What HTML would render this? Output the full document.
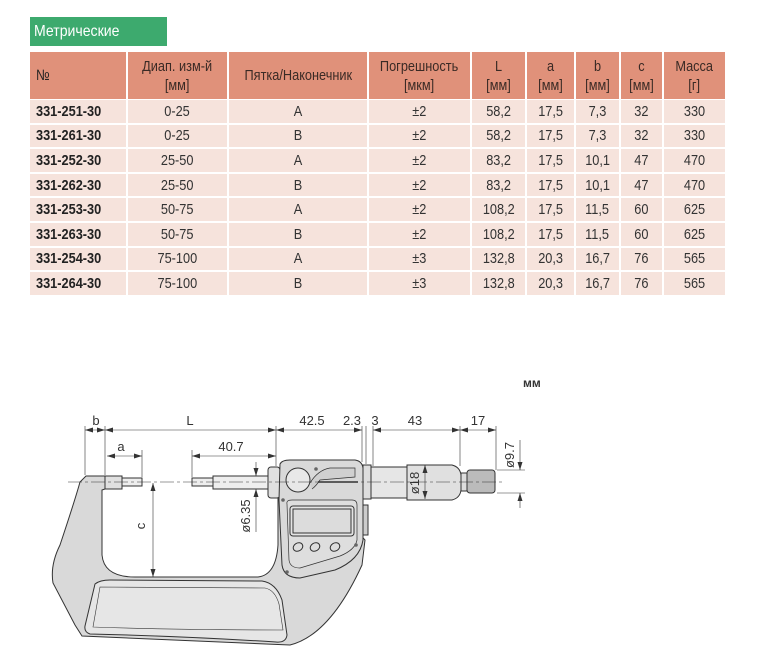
<!DOCTYPE html>
<html><head><meta charset="utf-8"><style>
body{margin:0;width:761px;height:669px;background:#fff;position:relative;overflow:hidden;font-family:"Liberation Sans",sans-serif;}
.c{position:absolute;display:flex;align-items:center;justify-content:center;text-align:center;font-size:15px;color:#333;line-height:19px;box-sizing:border-box;}
.c span{display:inline-block;transform:scaleX(0.85);white-space:nowrap;}
.h{background:#e0917a;color:#3a2a25;}
.r{background:#f6e3dc;}
.n{justify-content:flex-start;padding-left:6px;font-weight:bold;color:#222;}
.n span{transform-origin:left center;}
</style></head><body>
<div style="position:absolute;left:30px;top:17px;width:137px;height:29px;background:#3daa6e;color:#fff;font-size:16px;line-height:29px;padding-left:4px;box-sizing:border-box;"><span style="display:inline-block;transform:scaleX(0.88);transform-origin:left center">Метрические</span></div>
<div id="t"></div>
<script>
var cols=[[30,126],[128,227],[229,367],[369,470],[472,525],[527,574],[576,619],[621,662],[664,725]];
var hd=["№","Диап. изм-й<br>[мм]","Пятка/Наконечник","Погрешность<br>[мкм]","L<br>[мм]","a<br>[мм]","b<br>[мм]","c<br>[мм]","Масса<br>[г]"];
var rows=[["331-251-30","0-25","A","±2","58,2","17,5","7,3","32","330"],
["331-261-30","0-25","B","±2","58,2","17,5","7,3","32","330"],
["331-252-30","25-50","A","±2","83,2","17,5","10,1","47","470"],
["331-262-30","25-50","B","±2","83,2","17,5","10,1","47","470"],
["331-253-30","50-75","A","±2","108,2","17,5","11,5","60","625"],
["331-263-30","50-75","B","±2","108,2","17,5","11,5","60","625"],
["331-254-30","75-100","A","±3","132,8","20,3","16,7","76","565"],
["331-264-30","75-100","B","±3","132,8","20,3","16,7","76","565"]];
var h="";
cols.forEach(function(c,i){h+='<div class="c h'+(i==0?' n':'')+'" style="left:'+c[0]+'px;top:52px;width:'+(c[1]-c[0])+'px;height:47px;font-weight:normal"><span>'+hd[i]+'</span></div>';});
rows.forEach(function(r,j){var y=100+j*24.6;cols.forEach(function(c,i){h+='<div class="c r'+(i==0?' n':'')+'" style="left:'+c[0]+'px;top:'+y+'px;width:'+(c[1]-c[0])+'px;height:22.6px"><span>'+r[i]+'</span></div>';});});
document.getElementById("t").innerHTML=h;
</script>
<div style="position:absolute;left:523px;top:376px;font-size:12px;font-weight:bold;color:#333;">мм</div>
<svg width="761" height="669" style="position:absolute;left:0;top:0" font-family="Liberation Sans,sans-serif" font-size="12" fill="#333">
<defs><marker id="a" markerWidth="8" markerHeight="6" refX="8" refY="3" orient="auto-start-reverse" markerUnits="userSpaceOnUse"><path d="M0,0.5L8,3L0,5.5z" fill="#333"/></marker></defs>
<g stroke="#333" stroke-width="1" fill="#d9d9d9">
<path d="M86,476 L105,476 L105,489 L102,490 L102,555 Q104,577 135,577 L258,577 Q276,575 278,545 L278,495 L330,500 L365,540 L362,565 Q330,635 290,645 Q180,640 82,636 L75,625 L53,583 Q50,565 60,545 Q75,500 80,482 Z"/>
<path d="M95,584 Q100,580 110,580 L262,581 Q276,583 282,600 L287,635 Q286,643 276,642 Q180,636 90,634 Q84,632 85,626 Z" fill="#e6e6e6"/>
<path d="M100,587 L265,588 Q275,590 279,604 L283,630 Q180,630 93,627 Z" fill="none" stroke-width="0.6"/>
<rect x="105" y="476" width="17" height="13" fill="#e0e0e0"/>
<rect x="122" y="478" width="20" height="8" fill="#eee"/>
<rect x="192" y="478" width="21" height="8" fill="#eee"/>
<rect x="213" y="476" width="57" height="13" fill="#eee"/>
<rect x="268" y="467" width="12" height="31" rx="3" fill="#e0e0e0"/>
<path d="M280,464 Q282,460 290,460 L355,460 Q362,461 363,468 L363,540 Q360,560 335,570 L300,578 Q284,578 282,565 L279,500 Z"/>
<path d="M287,504 Q286,500 292,500 L352,500 Q357,500 357,505 L357,540 Q355,550 340,556 L300,568 Q290,568 289,560 Z" fill="#dedede" stroke-width="0.7"/>
<rect x="290" y="506" width="64" height="30" rx="3" fill="#e4e4e4"/>
<rect x="293" y="509" width="58" height="24" fill="#dcdcdc"/>
<circle cx="298" cy="480" r="12" fill="#e8e8e8"/>
<path d="M310,483 Q318,470 330,468 L355,468 L355,477 L320,480 Q316,486 312,489" fill="#d0d0d0" stroke-width="0.7"/>
<line x1="318" y1="482" x2="358" y2="482" stroke-width="1.5"/>
<rect x="363" y="505" width="5" height="30" fill="#ccc"/>
<ellipse cx="298" cy="547" rx="5" ry="4" fill="none" transform="rotate(-30 298 547)"/>
<ellipse cx="315" cy="547" rx="5" ry="4" fill="none" transform="rotate(-30 315 547)"/>
<ellipse cx="335" cy="547" rx="5" ry="4" fill="none" transform="rotate(-30 335 547)"/>
<rect x="363" y="465" width="8" height="34" fill="#ddd"/>
<rect x="371" y="467" width="36" height="31" fill="#e6e6e6"/>
<path d="M407,465 L452,465 Q460,467 461,475 L461,490 Q460,498 452,500 L407,500 Z" fill="#e0e0e0"/>
<rect x="461" y="473" width="6" height="18" fill="#ddd"/>
<rect x="467" y="470" width="28" height="23" rx="3" fill="#bbb"/>
</g>
<g fill="#666"><circle cx="316" cy="469" r="1.8"/><circle cx="283" cy="500" r="1.8"/><circle cx="356" cy="545" r="1.8"/><circle cx="287" cy="572" r="1.8"/></g>
<g stroke="#333" stroke-width="0.6">
<line x1="68" y1="482" x2="505" y2="482" stroke-dasharray="14,3,3,3"/>
<line x1="85" y1="426" x2="85" y2="475"/><line x1="105" y1="426" x2="105" y2="475"/>
<line x1="142" y1="450" x2="142" y2="477"/><line x1="192" y1="450" x2="192" y2="477"/>
<line x1="276" y1="426" x2="276" y2="466"/><line x1="362" y1="426" x2="362" y2="462"/>
<line x1="366" y1="426" x2="366" y2="464"/><line x1="373" y1="426" x2="373" y2="466"/>
<line x1="460" y1="426" x2="460" y2="466"/><line x1="496" y1="426" x2="496" y2="470"/>
<line x1="497" y1="470" x2="525" y2="470"/><line x1="497" y1="493" x2="525" y2="493"/>
<line x1="85" y1="430" x2="105" y2="430" marker-start="url(#a)" marker-end="url(#a)"/>
<line x1="105" y1="430" x2="276" y2="430" marker-start="url(#a)" marker-end="url(#a)"/>
<line x1="276" y1="430" x2="362" y2="430" marker-start="url(#a)" marker-end="url(#a)"/>
<line x1="373" y1="430" x2="460" y2="430" marker-start="url(#a)" marker-end="url(#a)"/>
<line x1="460" y1="430" x2="496" y2="430" marker-start="url(#a)" marker-end="url(#a)"/>
<line x1="107" y1="456" x2="142" y2="456" marker-start="url(#a)" marker-end="url(#a)"/>
<line x1="192" y1="456" x2="276" y2="456" marker-start="url(#a)" marker-end="url(#a)"/>
<line x1="153" y1="483" x2="153" y2="577" marker-start="url(#a)" marker-end="url(#a)"/>
<line x1="256" y1="462" x2="256" y2="476" marker-end="url(#a)"/><line x1="256" y1="489" x2="256" y2="532" marker-start="url(#a)"/>
<line x1="425" y1="465" x2="425" y2="499" marker-start="url(#a)" marker-end="url(#a)"/>
<line x1="520" y1="440" x2="520" y2="470" marker-end="url(#a)"/><line x1="520" y1="493" x2="520" y2="508" marker-start="url(#a)"/>
</g>
<g font-size="13" text-anchor="middle">
<text x="96" y="425">b</text><text x="190" y="425">L</text><text x="312" y="425">42.5</text>
<text x="352" y="425">2.3</text><text x="375" y="425">3</text><text x="415" y="425">43</text><text x="478" y="425">17</text>
<text x="121" y="451">a</text><text x="231" y="451">40.7</text>
<text x="149" y="530" transform="rotate(-90 145 530)">c</text>
<text x="250" y="516" transform="rotate(-90 250 516)">ø6.35</text>
<text x="419" y="483" transform="rotate(-90 419 483)">ø18</text>
<text x="514" y="455" transform="rotate(-90 514 455)">ø9.7</text>
</g>
</svg>
</body></html>
